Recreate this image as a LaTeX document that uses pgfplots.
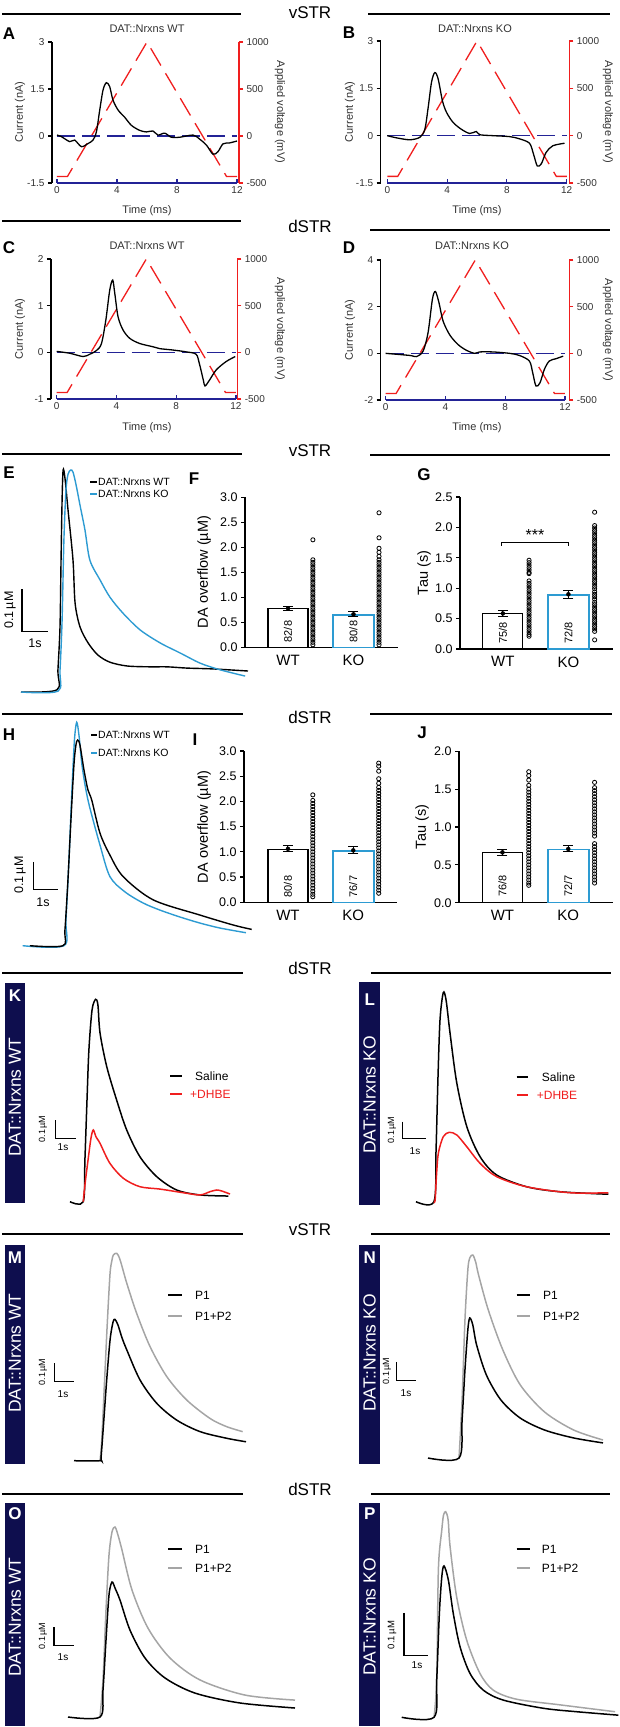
\documentclass[border=0pt]{standalone}
\usepackage{fontspec}
\setmainfont{Liberation Sans}
\usepackage{pgfplots}
\pgfplotsset{compat=1.18}
\newcommand\fs[1]{\fontsize{#1}{#1}\selectfont}
\definecolor{vred}{RGB}{240,30,30}
\definecolor{dblue}{RGB}{35,35,150}
\definecolor{kblue}{RGB}{45,155,210}
\definecolor{navy}{RGB}{14,14,78}
\definecolor{pgray}{RGB}{165,165,165}
\definecolor{lgray}{RGB}{50,50,50}
\pgfplotsset{
  base/.style={scale only axis, clip=false, anchor=south west},
  cvL/.style={base, axis x line=none, axis y line*=left, axis line style={line width=1.2pt,-}, ytick style={line width=1.1pt,black}, tick align=outside, major tick length=4pt, yticklabel style={font=\fs{10},text=lgray}},
  cvR/.style={base, axis x line=none, axis y line*=right, axis line style={vred,line width=1.2pt,-}, ytick style={vred,line width=1.1pt}, tick align=outside, major tick length=4pt, yticklabel style={font=\fs{10},text=lgray}, ytick={-500,0,500,1000}, yticklabels={-500,0,500,1000}, ymin=-500, ymax=1000},
  cvB/.style={base, axis y line=none, axis x line*=bottom, axis line style={dblue,line width=1.2pt,-}, xtick style={dblue,line width=1.1pt}, tick align=inside, major tick length=4pt, xticklabel style={font=\fs{10},text=lgray}, xmin=0, xmax=12, ymin=0, ymax=1, xtick={0,4,8,12}, xticklabels={0,4,8,12}},
  trace/.style={black, line width=1.3pt, smooth},
  bdash/.style={dblue, line width=1.3pt, dash pattern=on 18pt off 7pt},
  rdash/.style={vred, line width=1.3pt, dash pattern=on 20pt off 9pt},
  tr/.style={base, axis lines=none},
  bars/.style={base, axis x line*=bottom, axis y line*=left, axis line style={line width=1.3pt,-}, tick align=outside, major tick length=4pt, ytick style={line width=1.2pt,black}, xtick={1,2}, xticklabels={WT,KO}, xtick style={draw=none}, xticklabel style={font=\fs{15}}, yticklabel style={font=\fs{12.5}}, ymin=0},
  wtbar/.style={ybar, bar width=40pt, bar shift=0pt, draw=black, line width=1.3pt, fill=white},
  kobar/.style={ybar, bar width=41pt, bar shift=0pt, draw=kblue, line width=1.5pt, fill=white},
  ebar/.style={black, only marks, mark=none, error bars/.cd, y dir=both, y explicit, error bar style={draw=black,line width=1pt}, error mark options={rotate=90, mark size=5pt, line width=1pt, draw=black}},
  dots/.style={only marks, mark=o, mark size=2.1pt, mark options={line width=0.8pt, black}},
}
\begin{document}
\begin{tikzpicture}
\useasboundingbox (0pt,0pt) rectangle (620pt,-1727pt);
% ---------- separators ----------
\begin{scope}[line width=1.6pt]
\draw (2pt,-14pt) -- (241pt,-14pt); \draw (368pt,-14pt) -- (610pt,-14pt);
\draw (2pt,-221pt) -- (241pt,-221pt); \draw (370pt,-230pt) -- (610pt,-230pt);
\draw (2pt,-454pt) -- (242pt,-454pt); \draw (370pt,-455pt) -- (610pt,-455pt);
\draw (2pt,-714pt) -- (243pt,-714pt); \draw (370pt,-714pt) -- (612pt,-714pt);
\draw (2pt,-973pt) -- (243pt,-973pt); \draw (371pt,-973pt) -- (611pt,-973pt);
\draw (2pt,-1234pt) -- (243pt,-1234pt); \draw (371pt,-1234pt) -- (610pt,-1234pt);
\draw (2pt,-1494pt) -- (243pt,-1494pt); \draw (371pt,-1494pt) -- (610pt,-1494pt);
\end{scope}
\begin{scope}[every node/.style={font=\fs{17}}]
\node at (310pt,-13pt) {vSTR};
\node at (310pt,-226pt) {dSTR};
\node at (310pt,-451pt) {vSTR};
\node at (310pt,-717pt) {dSTR};
\node at (310pt,-968pt) {dSTR};
\node at (310pt,-1230pt) {vSTR};
\node at (310pt,-1489pt) {dSTR};
\end{scope}
\begin{scope}[every node/.style={font=\bfseries\fs{17}}]
\node at (9pt,-34pt) {A};
\node at (349pt,-33pt) {B};
\node at (9pt,-248pt) {C};
\node at (349pt,-248pt) {D};
\node at (9pt,-473pt) {E};
\node at (194pt,-479pt) {F};
\node at (424pt,-475pt) {G};
\node at (9pt,-735pt) {H};
\node at (195pt,-740pt) {I};
\node at (422pt,-733pt) {J};
\end{scope}
% ---------- A-D texts ----------
\begin{scope}[every node/.style={font=\fs{11},text=lgray}]
\node at (147pt,-29pt) {DAT::Nrxns WT};
\node at (475pt,-29pt) {DAT::Nrxns KO};
\node at (147pt,-246pt) {DAT::Nrxns WT};
\node at (472pt,-246pt) {DAT::Nrxns KO};
\node at (147pt,-211pt) {Time (ms)};
\node at (477pt,-211pt) {Time (ms)};
\node at (147pt,-428pt) {Time (ms)};
\node at (477pt,-428pt) {Time (ms)};
\node[rotate=90] at (20pt,-112pt) {Current (nA)};
\node[rotate=90] at (350pt,-112pt) {Current (nA)};
\node[rotate=90] at (20pt,-329pt) {Current (nA)};
\node[rotate=90] at (350pt,-330pt) {Current (nA)};
\node[rotate=-90] at (280pt,-112pt) {Applied voltage (mV)};
\node[rotate=-90] at (608pt,-112pt) {Applied voltage (mV)};
\node[rotate=-90] at (280pt,-329pt) {Applied voltage (mV)};
\node[rotate=-90] at (608pt,-330pt) {Applied voltage (mV)};
\end{scope}
% ---------- A ----------
\begin{axis}[cvR, at={(52pt,-183pt)}, width=187pt, height=141pt, xmin=-0.333, xmax=12.133]
\addplot[rdash] coordinates {(0,-430)(0.7,-430)(6,1000)(11.3,-430)(12,-430)};
\end{axis}
\begin{axis}[cvL, at={(52pt,-183pt)}, width=187pt, height=141pt, xmin=-0.333, xmax=12.133, ymin=-1.5, ymax=3, ytick={-1.5,0,1.5,3}, yticklabels={-1.5,0,1.5,3}]
\addplot[bdash] coordinates {(0,0)(12,0)};
\addplot[trace] coordinates {(0,0.03)(0.29,-0.02)(0.85,-0.18)(1.18,-0.13)(1.63,-0.34)(2.07,-0.24)(2.4,-0.13)(2.63,0.14)(2.85,0.83)(3.07,1.47)(3.29,1.7)(3.51,1.58)(3.73,1.15)(4.07,0.83)(4.51,0.6)(4.96,0.34)(5.51,0.18)(5.96,0.13)(6.4,0.16)(6.73,0.03)(7.18,0.09)(7.63,-0.04)(8.18,-0.04)(9.07,0.03)(9.51,-0.1)(9.96,-0.29)(10.4,-0.58)(10.73,-0.5)(11.07,-0.25)(11.51,-0.22)(12,-0.16)};
\end{axis}
\begin{axis}[cvB, at={(57pt,-183pt)}, width=180pt, height=141pt]
\end{axis}
% ---------- B ----------
\begin{axis}[cvR, at={(380.7pt,-183pt)}, width=188.6pt, height=142pt, xmin=-0.44, xmax=12.17]
\addplot[rdash] coordinates {(0,-430)(0.7,-430)(6,1000)(11.3,-430)(12,-430)};
\end{axis}
\begin{axis}[cvL, at={(380.7pt,-183pt)}, width=188.6pt, height=142pt, xmin=-0.44, xmax=12.17, ymin=-1.5, ymax=3, ytick={-1.5,0,1.5,3}, yticklabels={-1.5,0,1.5,3}]
\addplot[bdash] coordinates {(0,0)(12,0)};
\addplot[trace] coordinates {(0,0)(0.63,-0.07)(1.51,-0.13)(2.18,-0.05)(2.51,0.2)(2.73,0.88)(2.96,1.7)(3.18,2.0)(3.4,1.8)(3.69,1.1)(3.96,0.74)(4.4,0.42)(4.96,0.2)(5.51,0.07)(5.96,0.13)(6.18,0.03)(7.07,0)(8.18,-0.03)(8.84,-0.1)(9.51,-0.24)(9.78,-0.59)(10.03,-0.96)(10.3,-0.89)(10.62,-0.53)(11.07,-0.32)(11.85,-0.24)};
\end{axis}
\begin{axis}[cvB, at={(387.3pt,-183pt)}, width=179.4pt, height=142pt]
\end{axis}
% ---------- C ----------
\begin{axis}[cvR, at={(51pt,-399pt)}, width=186.3pt, height=140pt, xmin=-0.38, xmax=12.09]
\addplot[rdash] coordinates {(0,-430)(0.7,-430)(6,1000)(11.3,-430)(12,-430)};
\end{axis}
\begin{axis}[cvL, at={(51pt,-399pt)}, width=186.3pt, height=140pt, xmin=-0.38, xmax=12.09, ymin=-1, ymax=2, ytick={-1,0,1,2}, yticklabels={-1,0,1,2}]
\addplot[bdash] coordinates {(0,0)(12,0)};
\addplot[trace] coordinates {(0,0.02)(0.89,-0.02)(1.77,-0.09)(2.22,-0.04)(2.67,0.04)(3.0,0.19)(3.29,0.69)(3.55,1.33)(3.75,1.55)(3.89,1.26)(4.11,0.76)(4.44,0.48)(4.89,0.3)(5.55,0.19)(6.44,0.12)(6.89,0.08)(7.77,0.05)(8.67,0.01)(9.33,-0.04)(9.55,-0.24)(9.82,-0.6)(9.93,-0.72)(10.22,-0.6)(10.67,-0.38)(11.33,-0.2)(11.95,-0.09)};
\end{axis}
\begin{axis}[cvB, at={(56.7pt,-399pt)}, width=179.3pt, height=140pt]
\end{axis}
% ---------- D ----------
\begin{axis}[cvR, at={(380.7pt,-400pt)}, width=188.6pt, height=140pt, xmin=-0.33, xmax=12.29]
\addplot[rdash] coordinates {(0,-430)(0.7,-430)(6,1000)(11.3,-430)(12,-430)};
\end{axis}
\begin{axis}[cvL, at={(380.7pt,-400pt)}, width=188.6pt, height=140pt, xmin=-0.33, xmax=12.29, ymin=-2, ymax=4, ytick={-2,0,2,4}, yticklabels={-2,0,2,4}]
\addplot[bdash] coordinates {(0,0)(12,0)};
\addplot[trace] coordinates {(0,0)(1.62,-0.09)(2.07,-0.14)(2.51,0.1)(2.84,0.89)(3.13,2.32)(3.33,2.65)(3.57,2.17)(3.84,1.39)(4.29,0.79)(4.84,0.38)(5.38,0.14)(5.95,0)(6.29,0.06)(7.18,0.06)(8.29,0)(8.95,-0.09)(9.62,-0.33)(9.84,-0.83)(10.06,-1.4)(10.33,-1.26)(10.62,-0.69)(10.95,-0.33)(11.4,-0.23)(11.88,-0.12)};
\end{axis}
\begin{axis}[cvB, at={(385.7pt,-400pt)}, width=179.3pt, height=140pt]
\end{axis}
% ---------- E ----------
\begin{axis}[tr, at={(21pt,-692pt)}, width=227pt, height=222pt, xmin=0, xmax=8.73, ymin=0, ymax=0.529]
\addplot[black, line width=1.4pt, smooth] coordinates {(0,0)(1.38,0.005)(1.42,0.052)(1.5,0.155)(1.54,0.314)(1.58,0.457)(1.62,0.529)(1.69,0.51)(1.81,0.433)(2.0,0.314)(2.08,0.212)(2.27,0.155)(2.58,0.117)(2.96,0.088)(3.42,0.071)(4.08,0.062)(4.96,0.06)(5.62,0.06)(6.38,0.057)(7.38,0.055)(8.73,0.05)};
\addplot[kblue, line width=1.4pt, smooth] coordinates {(0,0)(1.42,0.002)(1.5,0.052)(1.58,0.171)(1.65,0.362)(1.73,0.481)(1.81,0.519)(1.91,0.529)(2.0,0.524)(2.12,0.493)(2.27,0.445)(2.46,0.386)(2.65,0.314)(3.04,0.267)(3.42,0.226)(3.92,0.188)(4.58,0.148)(5.35,0.117)(6.12,0.093)(6.88,0.069)(7.54,0.055)(8.15,0.045)(8.62,0.038)};
\addplot[black, line width=1.2pt] coordinates {(0.04,0.245)(0.04,0.145)(1.04,0.145)};
\end{axis}
\node[rotate=90, font=\fs{12.5}] at (10pt,-610pt) {0.1\,µM};
\node[font=\fs{12.5}] at (35pt,-643pt) {1s};
\draw[black, line width=1.5pt] (90pt,-482pt) -- (97pt,-482pt);
\node[anchor=west, font=\fs{10.5}, inner sep=1pt] at (97pt,-482pt) {DAT::Nrxns WT};
\draw[kblue, line width=1.5pt] (90pt,-494pt) -- (97pt,-494pt);
\node[anchor=west, font=\fs{10.5}, inner sep=1pt] at (97pt,-494pt) {DAT::Nrxns KO};
% ---------- F ----------
\begin{axis}[bars, at={(245pt,-647.3pt)}, width=153pt, height=150pt, xmin=0.343, xmax=2.68, ymax=3, ytick={0,0.5,1,1.5,2,2.5,3}, yticklabels={0.0,0.5,1.0,1.5,2.0,2.5,3.0}]
\addplot[wtbar] coordinates {(1,0.77)};
\addplot[kobar] coordinates {(2,0.65)};
\addplot[ebar] coordinates {(1,0.78) +- (0,0.04) (2,0.66) +- (0,0.05)};
\addplot[dots] table[x expr=1.38, y index=0, header=false, row sep=\\] {2.15\\1.75\\1.70\\1.65\\1.60\\1.55\\1.50\\1.45\\1.40\\1.35\\1.30\\1.25\\1.20\\1.15\\1.10\\1.05\\1.00\\0.95\\0.90\\0.85\\0.80\\0.75\\0.70\\0.65\\0.60\\0.55\\0.50\\0.45\\0.40\\0.35\\0.30\\0.25\\0.20\\0.15\\0.10\\0.05\\};
\addplot[dots] table[x expr=2.39, y index=0, header=false, row sep=\\] {2.69\\2.19\\1.98\\1.90\\1.82\\1.75\\1.70\\1.65\\1.60\\1.55\\1.50\\1.45\\1.40\\1.35\\1.30\\1.25\\1.20\\1.15\\1.10\\1.05\\1.00\\0.95\\0.90\\0.85\\0.80\\0.75\\0.70\\0.65\\0.60\\0.55\\0.50\\0.45\\0.40\\0.35\\0.30\\0.25\\0.20\\0.15\\0.10\\0.05\\};
\node[rotate=90, anchor=west, font=\fs{11}] at (axis cs:1,0.03) {82/8};
\node[rotate=90, anchor=west, font=\fs{11}] at (axis cs:2,0.03) {80/8};
\end{axis}
\node[rotate=90, font=\fs{14.5}] at (204pt,-572pt) {DA overflow (µM)};
% ---------- G ----------
\begin{axis}[bars, at={(460pt,-649pt)}, width=153pt, height=152pt, xmin=0.347, xmax=2.68, ymax=2.5, ytick={0,0.5,1,1.5,2,2.5}, yticklabels={0.0,0.5,1.0,1.5,2.0,2.5}]
\addplot[wtbar] coordinates {(1,0.58)};
\addplot[kobar] coordinates {(2,0.89)};
\addplot[ebar] coordinates {(1,0.585) +- (0,0.045) (2,0.9) +- (0,0.07)};
\addplot[dots] table[x expr=1.4, y index=0, header=false, row sep=\\] {1.46\\1.42\\1.38\\1.34\\1.30\\1.26\\1.24\\1.12\\1.08\\1.04\\1.00\\0.96\\0.92\\0.88\\0.84\\0.80\\0.76\\0.72\\0.68\\0.64\\0.60\\0.56\\0.52\\0.48\\0.44\\0.40\\0.36\\0.32\\0.28\\0.24\\0.21\\};
\addplot[dots] table[x expr=2.4, y index=0, header=false, row sep=\\] {2.25\\2.03\\1.99\\1.95\\1.91\\1.87\\1.83\\1.79\\1.75\\1.71\\1.67\\1.63\\1.59\\1.55\\1.51\\1.47\\1.43\\1.39\\1.35\\1.31\\1.27\\1.23\\1.19\\1.15\\1.11\\1.07\\1.03\\0.99\\0.94\\0.90\\0.86\\0.82\\0.77\\0.73\\0.69\\0.65\\0.61\\0.57\\0.53\\0.49\\0.45\\0.41\\0.37\\0.33\\0.29\\0.15\\};
\node[rotate=90, anchor=west, font=\fs{11}] at (axis cs:1,0.03) {75/8};
\node[rotate=90, anchor=west, font=\fs{11}] at (axis cs:2,0.03) {72/8};
\addplot[black, line width=1pt] coordinates {(0.98,1.7)(0.98,1.76)(2.0,1.76)(2.0,1.7)};
\node[font=\fs{16}] at (axis cs:1.49,1.87) {***};
\end{axis}
\node[rotate=90, font=\fs{14.5}] at (424pt,-573pt) {Tau (s)};
% ---------- H ----------
\begin{axis}[tr, at={(22.7pt,-945.7pt)}, width=229pt, height=223.4pt, xmin=0, xmax=9.16, ymin=0, ymax=0.809]
\addplot[kblue, line width=1.4pt, smooth] coordinates {(0,0)(1.65,0)(1.73,0.093)(1.85,0.311)(1.97,0.564)(2.07,0.745)(2.16,0.809)(2.25,0.763)(2.37,0.655)(2.53,0.564)(2.69,0.498)(3.09,0.365)(3.49,0.25)(4.09,0.195)(4.81,0.155)(5.49,0.129)(6.29,0.104)(7.09,0.082)(7.89,0.064)(8.93,0.047)};
\addplot[black, line width=1.4pt, smooth] coordinates {(0.29,0)(1.61,0)(1.69,0.057)(1.81,0.238)(1.93,0.456)(2.05,0.655)(2.13,0.727)(2.2,0.745)(2.29,0.727)(2.45,0.637)(2.61,0.564)(2.76,0.528)(3.09,0.408)(3.49,0.328)(4.02,0.25)(5.22,0.166)(7.09,0.111)(8.42,0.075)(9.16,0.059)};
\addplot[black, line width=1.2pt] coordinates {(0.42,0.304)(0.42,0.204)(1.42,0.204)};
\end{axis}
\node[rotate=90, font=\fs{12.5}] at (20pt,-875pt) {0.1\,µM};
\node[font=\fs{12.5}] at (43pt,-902pt) {1s};
\draw[black, line width=1.5pt] (91pt,-735pt) -- (97pt,-735pt);
\node[anchor=west, font=\fs{10.5}, inner sep=1pt] at (97pt,-735pt) {DAT::Nrxns WT};
\draw[kblue, line width=1.5pt] (91pt,-753pt) -- (97pt,-753pt);
\node[anchor=west, font=\fs{10.5}, inner sep=1pt] at (97pt,-753pt) {DAT::Nrxns KO};
% ---------- I ----------
\begin{axis}[bars, at={(244pt,-902.3pt)}, width=153pt, height=151.3pt, xmin=0.326, xmax=2.67, ymax=3, ytick={0,0.5,1,1.5,2,2.5,3}, yticklabels={0.0,0.5,1.0,1.5,2.0,2.5,3.0}]
\addplot[wtbar] coordinates {(1,1.05)};
\addplot[kobar] coordinates {(2,1.02)};
\addplot[ebar] coordinates {(1,1.06) +- (0,0.06) (2,1.03) +- (0,0.07)};
\addplot[dots] table[x expr=1.38, y index=0, header=false, row sep=\\] {2.13\\2.02\\1.96\\1.90\\1.84\\1.78\\1.72\\1.66\\1.60\\1.54\\1.48\\1.42\\1.36\\1.30\\1.24\\1.18\\1.12\\1.06\\1.00\\0.94\\0.88\\0.82\\0.76\\0.70\\0.64\\0.58\\0.52\\0.46\\0.40\\0.34\\0.28\\0.22\\0.16\\0.11\\};
\addplot[dots] table[x expr=2.39, y index=0, header=false, row sep=\\] {2.76\\2.70\\2.60\\2.45\\2.36\\2.28\\2.22\\2.16\\2.10\\2.04\\1.98\\1.92\\1.86\\1.80\\1.74\\1.68\\1.62\\1.56\\1.50\\1.44\\1.38\\1.32\\1.26\\1.20\\1.14\\1.08\\1.02\\0.96\\0.90\\0.84\\0.78\\0.72\\0.66\\0.60\\0.54\\0.48\\0.42\\0.36\\0.30\\0.24\\0.18\\};
\node[rotate=90, anchor=west, font=\fs{11}] at (axis cs:1,0.03) {80/8};
\node[rotate=90, anchor=west, font=\fs{11}] at (axis cs:2,0.03) {76/7};
\end{axis}
\node[rotate=90, font=\fs{14.5}] at (204pt,-827pt) {DA overflow (µM)};
% ---------- J ----------
\begin{axis}[bars, at={(459pt,-902.7pt)}, width=154pt, height=151.4pt, xmin=0.34, xmax=2.68, ymax=2, ytick={0,0.5,1,1.5,2}, yticklabels={0.0,0.5,1.0,1.5,2.0}]
\addplot[wtbar] coordinates {(1,0.66)};
\addplot[kobar] coordinates {(2,0.705)};
\addplot[ebar] coordinates {(1,0.665) +- (0,0.04) (2,0.71) +- (0,0.04)};
\addplot[dots] table[x expr=1.4, y index=0, header=false, row sep=\\] {1.73\\1.68\\1.62\\1.55\\1.50\\1.46\\1.42\\1.38\\1.34\\1.30\\1.26\\1.22\\1.18\\1.14\\1.10\\1.06\\1.02\\0.98\\0.94\\0.90\\0.86\\0.82\\0.78\\0.74\\0.70\\0.66\\0.62\\0.58\\0.54\\0.50\\0.46\\0.42\\0.38\\0.34\\0.30\\0.26\\0.23\\};
\addplot[dots] table[x expr=2.4, y index=0, header=false, row sep=\\] {1.59\\1.52\\1.48\\1.44\\1.40\\1.36\\1.32\\1.28\\1.24\\1.20\\1.16\\1.12\\1.08\\1.04\\1.00\\0.96\\0.92\\0.88\\0.78\\0.74\\0.70\\0.66\\0.62\\0.58\\0.54\\0.50\\0.46\\0.42\\0.38\\0.34\\0.30\\0.26\\};
\node[rotate=90, anchor=west, font=\fs{11}] at (axis cs:1,0.03) {76/8};
\node[rotate=90, anchor=west, font=\fs{11}] at (axis cs:2,0.03) {72/7};
\end{axis}
\node[rotate=90, font=\fs{14.5}] at (422pt,-827pt) {Tau (s)};
% ---------- boxes ----------
\fill[navy] (5pt,-982.7pt) rectangle (25pt,-1203.3pt);
\fill[navy] (359.3pt,-981.7pt) rectangle (380pt,-1205pt);
\fill[navy] (5pt,-1245pt) rectangle (25pt,-1464pt);
\fill[navy] (359.3pt,-1245pt) rectangle (380pt,-1464pt);
\fill[navy] (5pt,-1502.7pt) rectangle (25pt,-1726pt);
\fill[navy] (359.3pt,-1502.7pt) rectangle (380pt,-1726pt);
\begin{scope}[every node/.style={text=white, font=\bfseries\fs{17}}]
\node at (15pt,-996pt) {K};
\node at (369.7pt,-1000pt) {L};
\node at (15pt,-1258pt) {M};
\node at (369.7pt,-1258pt) {N};
\node at (15pt,-1514pt) {O};
\node at (369.7pt,-1514pt) {P};
\end{scope}
\begin{scope}[every node/.style={text=white, font=\fs{17.5}, rotate=90}]
\node at (15pt,-1097pt) {DAT::Nrxns WT};
\node at (369.7pt,-1095pt) {DAT::Nrxns KO};
\node at (15pt,-1353pt) {DAT::Nrxns WT};
\node at (369.7pt,-1353pt) {DAT::Nrxns KO};
\node at (15pt,-1617pt) {DAT::Nrxns WT};
\node at (369.7pt,-1617pt) {DAT::Nrxns KO};
\end{scope}
% ---------- K ----------
\begin{axis}[tr, at={(70pt,-1201.7pt)}, width=160pt, height=202.4pt, xmin=0, xmax=7.62, ymin=0, ymax=1.106]
\addplot[black, line width=1.5pt, smooth] coordinates {(0,0)(0.63,0)(0.71,0.228)(0.81,0.556)(0.9,0.829)(1.05,1.048)(1.22,1.106)(1.33,1.075)(1.43,0.922)(1.75,0.738)(2.22,0.556)(2.7,0.392)(3.33,0.246)(4.13,0.137)(5.08,0.064)(6.19,0.037)(7.54,0.031)};
\addplot[vred, line width=1.5pt, smooth] coordinates {(0.63,0)(0.71,0.091)(0.86,0.228)(1.0,0.348)(1.11,0.392)(1.24,0.354)(1.43,0.319)(1.9,0.21)(2.54,0.128)(3.33,0.082)(4.29,0.069)(5.4,0.049)(6.19,0.037)(6.67,0.055)(6.99,0.064)(7.24,0.058)(7.62,0.042)};
\addplot[black, line width=1.1pt] coordinates {(-0.71,0.446)(-0.71,0.346)(0.29,0.346)};
\end{axis}
\node[rotate=90, font=\fs{9}] at (43pt,-1129pt) {0.1\,µM};
\node[font=\fs{10}] at (63pt,-1147pt) {1s};
\draw[black, line width=1.8pt] (170pt,-1076pt) -- (182pt,-1076pt);
\node[anchor=west, font=\fs{12}, inner sep=0pt] at (195pt,-1076pt) {Saline};
\draw[vred, line width=1.8pt] (170pt,-1094.3pt) -- (182pt,-1094.3pt);
\node[anchor=west, font=\fs{12}, inner sep=0pt, text=vred] at (190pt,-1094.3pt) {+DHBE};
% ---------- L ----------
\begin{axis}[tr, at={(416pt,-1201.7pt)}, width=192.3pt, height=209pt, xmin=0, xmax=8.25, ymin=0, ymax=1.259]
\addplot[black, line width=1.5pt, smooth] coordinates {(0,0)(0.77,0)(0.86,0.311)(0.94,0.733)(1.03,1.095)(1.17,1.259)(1.29,1.215)(1.46,1.016)(1.75,0.715)(2.18,0.452)(2.75,0.271)(3.46,0.161)(4.75,0.09)(6.18,0.06)(8.25,0.045)};
\addplot[vred, line width=1.5pt, smooth] coordinates {(0.77,0)(0.82,0.01)(0.88,0.161)(0.96,0.293)(1.17,0.392)(1.43,0.418)(1.75,0.402)(2.18,0.331)(2.75,0.231)(3.46,0.151)(4.75,0.09)(6.61,0.054)(8.25,0.054)};
\addplot[black, line width=1.1pt] coordinates {(-0.57,0.482)(-0.57,0.382)(0.43,0.382)};
\end{axis}
\node[rotate=90, font=\fs{9}] at (392pt,-1130pt) {0.1\,µM};
\node[font=\fs{10}] at (415pt,-1151pt) {1s};
\draw[black, line width=1.8pt] (516.7pt,-1076.7pt) -- (528.3pt,-1076.7pt);
\node[anchor=west, font=\fs{12}, inner sep=0pt] at (541.7pt,-1076.7pt) {Saline};
\draw[vred, line width=1.8pt] (516.7pt,-1095pt) -- (528.3pt,-1095pt);
\node[anchor=west, font=\fs{12}, inner sep=0pt, text=vred] at (536.7pt,-1095pt) {+DHBE};
% ---------- M ----------
\begin{axis}[tr, at={(74pt,-1460.7pt)}, width=172pt, height=207.4pt, xmin=0, xmax=8.73, ymin=0, ymax=1.127]
\addplot[pgray, line width=1.5pt, smooth] coordinates {(1.32,0)(1.41,0.113)(1.57,0.477)(1.69,0.748)(1.83,1.018)(1.93,1.091)(2.0,1.118)(2.17,1.127)(2.34,1.091)(2.68,0.964)(3.18,0.801)(3.86,0.62)(4.71,0.457)(5.72,0.33)(6.9,0.23)(7.75,0.185)(8.56,0.158)};
\addplot[black, line width=1.5pt, smooth] coordinates {(0,0)(1.32,0)(1.37,0.015)(1.49,0.185)(1.66,0.439)(1.83,0.656)(1.98,0.753)(2.08,0.768)(2.23,0.738)(2.44,0.667)(2.68,0.602)(3.35,0.439)(4.2,0.312)(5.21,0.221)(6.4,0.158)(7.75,0.122)(8.73,0.103)};
\addplot[black, line width=1.1pt] coordinates {(-1.0,0.529)(-1.0,0.429)(0,0.429)};
\end{axis}
\node[rotate=90, font=\fs{9}] at (43pt,-1372pt) {0.1\,µM};
\node[font=\fs{10}] at (63pt,-1394pt) {1s};
\draw[black, line width=1.8pt] (168.3pt,-1295pt) -- (181.7pt,-1295pt);
\node[anchor=west, font=\fs{12}, inner sep=0pt] at (195pt,-1295pt) {P1};
\draw[pgray, line width=1.8pt] (168.3pt,-1316pt) -- (181.7pt,-1316pt);
\node[anchor=west, font=\fs{12}, inner sep=0pt] at (195pt,-1316pt) {P1+P2};
% ---------- N ----------
\begin{axis}[tr, at={(428pt,-1458pt)}, width=175pt, height=203pt, xmin=0, xmax=9.14, ymin=0, ymax=1.103]
\addplot[pgray, line width=1.5pt, smooth] coordinates {(1.62,0)(1.78,0.315)(1.93,0.75)(2.08,1.022)(2.18,1.087)(2.34,1.103)(2.49,1.065)(2.64,0.995)(3.15,0.804)(3.91,0.587)(4.82,0.397)(6.09,0.25)(7.61,0.152)(9.14,0.098)};
\addplot[black, line width=1.5pt, smooth] coordinates {(0,0)(1.62,0)(1.78,0.207)(1.93,0.478)(2.08,0.696)(2.18,0.761)(2.34,0.723)(2.54,0.614)(3.05,0.451)(3.81,0.315)(4.82,0.217)(6.09,0.152)(7.61,0.109)(9.14,0.082)};
\addplot[black, line width=1.1pt] coordinates {(-1.65,0.522)(-1.65,0.422)(-0.65,0.422)};
\end{axis}
\node[rotate=90, font=\fs{9}] at (387pt,-1371pt) {0.1\,µM};
\node[font=\fs{10}] at (406pt,-1393pt) {1s};
\draw[black, line width=1.8pt] (516.7pt,-1295pt) -- (530pt,-1295pt);
\node[anchor=west, font=\fs{12}, inner sep=0pt] at (543pt,-1295pt) {P1};
\draw[pgray, line width=1.8pt] (516.7pt,-1316pt) -- (530pt,-1316pt);
\node[anchor=west, font=\fs{12}, inner sep=0pt] at (543pt,-1316pt) {P1+P2};
% ---------- O ----------
\begin{axis}[tr, at={(68pt,-1717pt)}, width=227pt, height=190pt, xmin=0, xmax=11.35, ymin=0, ymax=1.056]
\addplot[pgray, line width=1.5pt, smooth] coordinates {(1.6,0)(1.75,0.206)(1.9,0.594)(2.05,0.9)(2.2,1.028)(2.35,1.056)(2.5,1.011)(2.7,0.928)(3.2,0.706)(4.0,0.494)(5.1,0.328)(6.6,0.206)(8.85,0.122)(11.35,0.094)};
\addplot[black, line width=1.5pt, smooth] coordinates {(0,0)(1.6,0)(1.75,0.15)(1.9,0.428)(2.05,0.678)(2.2,0.75)(2.35,0.717)(2.6,0.65)(3.1,0.483)(3.85,0.328)(4.85,0.217)(6.35,0.133)(8.6,0.078)(11.35,0.05)};
\addplot[black, line width=1.1pt] coordinates {(-0.7,0.5)(-0.7,0.4)(0.3,0.4)};
\end{axis}
\node[rotate=90, font=\fs{9}] at (43pt,-1636pt) {0.1\,µM};
\node[font=\fs{10}] at (63pt,-1657pt) {1s};
\draw[black, line width=1.8pt] (168.3pt,-1549pt) -- (181.7pt,-1549pt);
\node[anchor=west, font=\fs{12}, inner sep=0pt] at (195pt,-1549pt) {P1};
\draw[pgray, line width=1.8pt] (168.3pt,-1568pt) -- (181.7pt,-1568pt);
\node[anchor=west, font=\fs{12}, inner sep=0pt] at (195pt,-1568pt) {P1+P2};
% ---------- P ----------
\begin{axis}[tr, at={(401.7pt,-1717.3pt)}, width=216.6pt, height=205.6pt, xmin=0, xmax=8.91, ymin=0, ymax=0.478]
\addplot[pgray, line width=1.5pt, smooth] coordinates {(1.33,0)(1.44,0.087)(1.51,0.345)(1.65,0.436)(1.72,0.47)(1.81,0.478)(1.91,0.459)(1.99,0.397)(2.26,0.28)(2.67,0.18)(3.22,0.102)(3.77,0.063)(4.73,0.042)(6.51,0.029)(8.78,0.013)};
\addplot[black, line width=1.5pt, smooth] coordinates {(0,0)(1.33,0)(1.44,0.087)(1.55,0.242)(1.65,0.327)(1.74,0.352)(1.92,0.319)(2.12,0.242)(2.4,0.164)(2.81,0.102)(3.36,0.063)(4.18,0.04)(5.83,0.021)(7.2,0.013)(8.91,0.005)};
\addplot[black, line width=1.1pt] coordinates {(0.095,0.243)(0.095,0.143)(1.09,0.143)};
\end{axis}
\node[rotate=90, font=\fs{9.5}] at (392pt,-1635pt) {0.1\,µM};
\node[font=\fs{10}] at (417pt,-1665pt) {1s};
\draw[black, line width=1.8pt] (516.7pt,-1549.3pt) -- (530pt,-1549.3pt);
\node[anchor=west, font=\fs{12}, inner sep=0pt] at (541.7pt,-1549.3pt) {P1};
\draw[pgray, line width=1.8pt] (516.7pt,-1568.3pt) -- (530pt,-1568.3pt);
\node[anchor=west, font=\fs{12}, inner sep=0pt] at (541.7pt,-1568.3pt) {P1+P2};
\end{tikzpicture}
\end{document}
